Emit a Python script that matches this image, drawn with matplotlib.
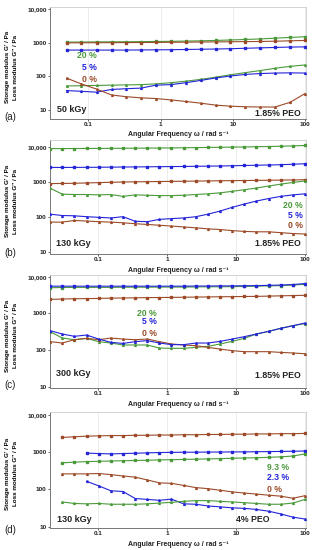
import matplotlib
matplotlib.use("Agg")
import matplotlib.pyplot as plt
from matplotlib.ticker import FixedLocator, FixedFormatter, NullLocator

plt.rcParams['font.family'] = ['Liberation Sans', 'DejaVu Sans']

W, H = 317, 550
GREEN = "#4a9a3a"
BLUE = "#2424d8"
BROWN = "#9c4a28"

# frequencies (rad/s)
freq_a = [0.05, 0.08, 0.13, 0.21, 0.33, 0.54, 0.86, 1.39, 2.23, 3.59, 5.77,
          9.28, 14.9, 24.0, 38.6, 62.1, 100]
freq = [0.02, 0.03, 0.045, 0.0675, 0.101, 0.152, 0.228, 0.342, 0.513, 0.769,
        1.15, 1.73, 2.60, 3.89, 5.84, 8.76, 13.1, 19.7, 29.6, 44.3, 66.5, 100]

# (a) 50 kGy, 1.85% PEO
a_g1_20 = [1050, 1060, 1070, 1075, 1080, 1090, 1100, 1110, 1130, 1150, 1180,
           1220, 1260, 1310, 1380, 1450, 1520]
a_g1_0 = [1000, 1005, 1010, 1015, 1020, 1025, 1030, 1040, 1050, 1060, 1070,
          1080, 1090, 1100, 1120, 1150, 1180]
a_g1_5 = [610, 610, 610, 610, 610, 615, 620, 625, 635, 645, 655, 670, 690,
          710, 730, 750, 760]
a_g2_20 = [52, 53, 54, 55, 56, 57, 60, 65, 72, 82, 95, 112, 130, 150, 175,
           200, 220]
a_g2_5 = [38, 36, 34, 41, 43, 45, 55, 57, 65, 76, 90, 103, 115, 122, 126,
          128, 126]
a_g2_0 = [89, 60, 42, 28, 25, 23, 22, 20, 18, 16, 14, 13, 12.5, 12.3, 12.3,
          17, 31]

# (b) 130 kGy, 1.85% PEO
b_g1_20 = [8800, 8800, 8850, 8900, 8900, 8950, 9000, 9050, 9100, 9150, 9200,
           9300, 9400, 9500, 9600, 9700, 9800, 9950, 10100, 10300, 10500, 10800]
b_g1_5 = [2550, 2550, 2560, 2570, 2580, 2600, 2620, 2640, 2660, 2680, 2700,
          2720, 2750, 2780, 2800, 2850, 2900, 2950, 3000, 3050, 3150, 3250]
b_g1_0 = [880, 890, 900, 920, 940, 960, 980, 990, 1000, 1010, 1020, 1030,
          1040, 1050, 1060, 1070, 1080, 1090, 1100, 1110, 1120, 1140]
b_g2_20 = [650, 440, 430, 430, 420, 430, 380, 420, 410, 400, 400, 410, 430,
           450, 480, 530, 590, 660, 750, 850, 950, 1050]
b_g2_5 = [118, 108, 106, 100, 96, 92, 100, 74, 72, 84, 88, 92, 100, 118, 145,
          185, 230, 280, 330, 380, 420, 450]
b_g2_0 = [70, 70, 78, 75, 72, 70, 67, 63, 60, 57, 54, 51, 48, 45, 43, 40, 38,
          37, 37, 35, 33, 32]

# (c) 300 kGy, 1.85% PEO
c_g1_5 = [5500, 5500, 5500, 5500, 5500, 5500, 5500, 5500, 5500, 5500, 5500,
          5500, 5550, 5550, 5600, 5600, 5650, 5700, 5800, 5900, 6100, 6500]
c_g1_20 = [5000, 5050, 5100, 5100, 5100, 5100, 5150, 5150, 5150, 5200, 5200,
           5200, 5250, 5300, 5300, 5350, 5400, 5500, 5600, 5700, 5900, 6200]
c_g1_0 = [2400, 2450, 2500, 2520, 2550, 2600, 2620, 2650, 2680, 2700, 2720,
          2750, 2780, 2800, 2830, 2850, 2880, 2900, 2950, 3000, 3050, 3100]
c_g2_5 = [336, 273, 236, 256, 199, 162, 151, 169, 180, 155, 140, 140, 155,
          155, 172, 199, 231, 273, 323, 390, 460, 545]
c_g2_20 = [316, 212, 191, 208, 169, 155, 137, 137, 137, 113, 111, 111, 118,
           126, 146, 172, 208, 273, 323, 390, 460, 525]
c_g2_0 = [169, 155, 191, 208, 191, 212, 199, 191, 199, 169, 146, 137, 131,
          118, 106, 96, 90, 90, 90, 86, 83, 79]

# (d) 130 kGy, 4% PEO
d_g1_0 = [2500, 2600, 2700, 2750, 2800, 2800, 2850, 2850, 2900, 2900, 2950,
          2950, 3000, 3000, 3050, 3050, 3100, 3100, 3150, 3150, 3200]
d_g1_23 = [950, 920, 900, 920, 940, 960, 980, 990, 1000, 1000, 1010, 1010,
           1020, 1020, 1030, 1040, 1050, 1060, 1080]
d_g1_93 = [520, 540, 560, 570, 580, 590, 600, 610, 620, 630, 640, 650, 660,
           670, 690, 700, 710, 730, 750, 790, 900]
d_g2_0 = [262, 262, 262, 268, 250, 230, 214, 180, 150, 146, 128, 112, 105,
          95, 86, 80, 75, 70, 66, 58, 68]
d_g2_23 = [165, 125, 92, 88, 57, 54, 51, 55, 41, 40, 36, 34, 32, 31, 29, 26,
           22, 18, 16]
d_g2_93 = [46, 42, 41, 42, 40, 40, 40, 41, 43, 45, 48, 50, 50, 48, 46, 44,
           42, 40, 40, 43, 54]

fig = plt.figure(figsize=(W / 100, H / 100), dpi=100)


def fx(px):
    return px / W


def fy(py):
    return 1 - py / H


def make_axes(top, bottom, xlim, ylim):
    ax = fig.add_axes([fx(50), fy(bottom), fx(306) - fx(50), fy(top) - fy(bottom)])
    ax.set_xscale("log")
    ax.set_yscale("log")
    ax.set_xlim(*xlim)
    ax.set_ylim(*ylim)
    ax.xaxis.set_major_locator(FixedLocator([0.1, 1, 10, 100]))
    ax.xaxis.set_major_formatter(FixedFormatter(["0.1", "1", "10", "100"]))
    ax.yaxis.set_major_locator(FixedLocator([10, 100, 1000, 10000]))
    ax.yaxis.set_major_formatter(FixedFormatter(["10", "100", "1000", "10,000"]))
    ax.xaxis.set_minor_locator(NullLocator())
    ax.yaxis.set_minor_locator(NullLocator())
    ax.tick_params(labelsize=4.6, length=1.5, width=0.5, pad=1.0, colors="#222222")
    for lab in ax.get_xticklabels() + ax.get_yticklabels():
        lab.set_fontweight("bold")
    for s in ["top", "right"]:
        ax.spines[s].set_color("#cccccc")
        ax.spines[s].set_linewidth(0.6)
    for s in ["left", "bottom"]:
        ax.spines[s].set_color("#777777")
        ax.spines[s].set_linewidth(0.7)
    ax.grid(True, axis="x", color="#e6e6e6", linewidth=0.5)
    ax.set_axisbelow(True)
    return ax


def storage(ax, x, y, c):
    ax.plot(x, y, color=c, lw=0.8, marker="s", ms=1.9, mec=c, mfc=c, zorder=3)


def loss(ax, x, y, c):
    ax.plot(x, y, color=c, lw=0.8, marker="^", ms=1.3, mec=c, mfc=c, zorder=3)


def txt(px, py, s, c="#222222", size=6.2, ha="left", weight="bold"):
    fig.text(fx(px), fy(py), s, color=c, fontsize=size, ha=ha, va="center",
             fontweight=weight)


def common_labels(top, bottom, letter, letter_y):
    mid = (top + bottom) / 2 + 4
    fig.text(fx(8), fy(mid), "Storage modulus G\u2032 / Pa", rotation=90,
             fontsize=4.5, fontweight="bold", ha="center", va="center")
    fig.text(fx(15.5), fy(mid), "Loss modulus G\u2033 / Pa", rotation=90,
             fontsize=4.5, fontweight="bold", ha="center", va="center")
    txt(178, bottom + 16, "Angular Frequency \u03c9 / rad s\u207b\u00b9",
        size=5, ha="center")
    txt(10, letter_y, letter, size=7, ha="center", weight="normal")


# panel (a)
ax = make_axes(7, 119, (0.0295, 103), (5.4, 11700))
storage(ax, freq_a, a_g1_20, GREEN)
storage(ax, freq_a, a_g1_0, BROWN)
storage(ax, freq_a, a_g1_5, BLUE)
loss(ax, freq_a, a_g2_20, GREEN)
loss(ax, freq_a, a_g2_5, BLUE)
loss(ax, freq_a, a_g2_0, BROWN)
common_labels(7, 119, "(a)", 117)
txt(97, 56, "20 %", GREEN, ha="right")
txt(97, 67, "5 %", BLUE, ha="right")
txt(97, 79, "0 %", BROWN, ha="right")
txt(57, 109, "50 kGy", size=6.5)
txt(301, 113, "1.85% PEO", size=6.3, ha="right")

# panel (b)
ax = make_axes(140, 254, (0.0199, 103), (8.6, 15500))
storage(ax, freq, b_g1_20, GREEN)
storage(ax, freq, b_g1_5, BLUE)
storage(ax, freq, b_g1_0, BROWN)
loss(ax, freq, b_g2_20, GREEN)
loss(ax, freq, b_g2_5, BLUE)
loss(ax, freq, b_g2_0, BROWN)
common_labels(140, 254, "(b)", 253)
txt(303, 205, "20 %", GREEN, ha="right")
txt(303, 215, "5 %", BLUE, ha="right")
txt(303, 225, "0 %", BROWN, ha="right")
txt(56, 243, "130 kGy", size=6.5)
txt(301, 243, "1.85% PEO", size=6.3, ha="right")

# panel (c)
ax = make_axes(275, 388, (0.0199, 103), (9.2, 11100))
storage(ax, freq, c_g1_20, GREEN)
storage(ax, freq, c_g1_5, BLUE)
storage(ax, freq, c_g1_0, BROWN)
loss(ax, freq, c_g2_20, GREEN)
loss(ax, freq, c_g2_0, BROWN)
loss(ax, freq, c_g2_5, BLUE)
common_labels(275, 388, "(c)", 385)
txt(157, 313, "20 %", GREEN, ha="right")
txt(157, 322, "5 %", BLUE, ha="right")
txt(157, 333, "0 %", BROWN, ha="right")
txt(56, 374, "300 kGy", size=6.5)
txt(301, 375, "1.85% PEO", size=6.3, ha="right")

# panel (d)
ax = make_axes(412, 528, (0.0199, 103), (9.2, 12040))
storage(ax, freq[1:], d_g1_0, BROWN)
storage(ax, freq[3:], d_g1_23, BLUE)
storage(ax, freq[1:], d_g1_93, GREEN)
loss(ax, freq[1:], d_g2_0, BROWN)
loss(ax, freq[3:], d_g2_23, BLUE)
loss(ax, freq[1:], d_g2_93, GREEN)
common_labels(412, 528, "(d)", 530)
txt(267, 467, "9.3 %", GREEN)
txt(267, 477, "2.3 %", BLUE)
txt(267, 490, "0 %", BROWN)
txt(57, 520, "130 kGy", size=6.5)
txt(253, 520, "4% PEO", size=6.3, ha="center")

fig.savefig("out.png", dpi=100)
